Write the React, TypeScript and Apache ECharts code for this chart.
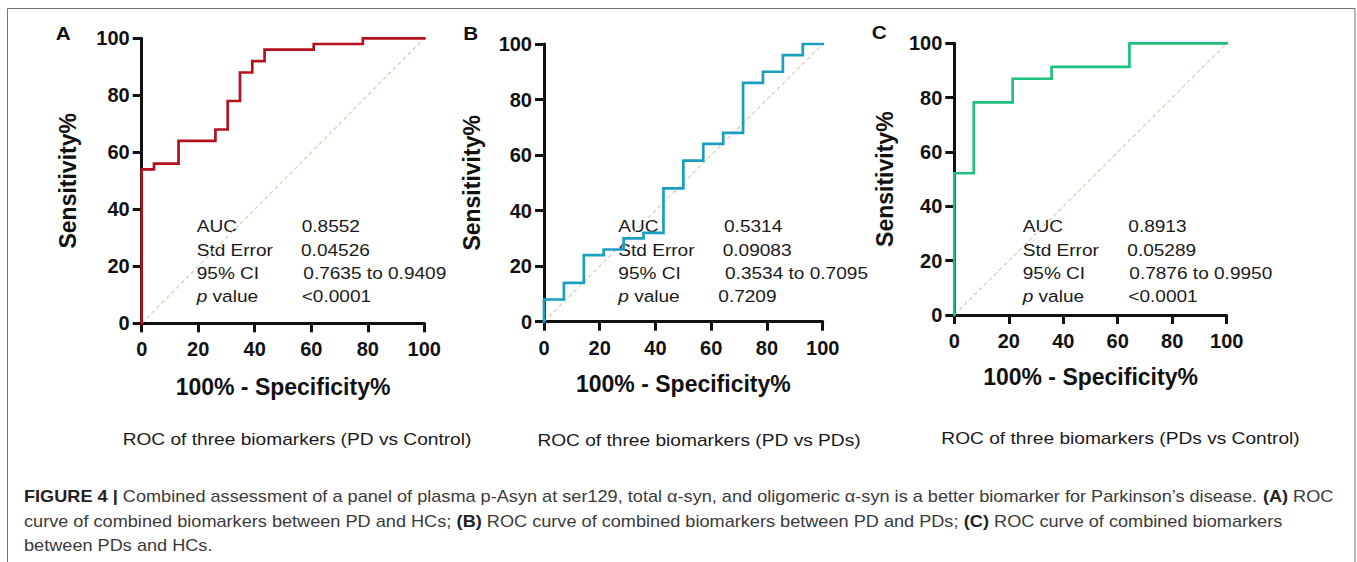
import React, { useEffect, useRef } from "react";
import * as echarts from "echarts";

// ---------- data ----------
const axisTicks = [0, 20, 40, 60, 80, 100];
const fprA = [0, 4.35, 13.04, 26.09, 30.43, 34.78, 39.13, 43.48, 60.87, 78.26, 100];
const tprA = [54, 56, 64, 68, 78, 88, 92, 96, 98, 100, 100];
const fprB = [0, 7.14, 14.29, 21.43, 28.57, 35.71, 42.86, 50, 57.14, 64.29, 71.43, 78.57, 85.71, 92.86, 100];
const tprB = [8, 14, 24, 26, 30, 32, 48, 58, 64, 68, 86, 90, 96, 100, 100];
const fprC = [0, 7.14, 21.43, 35.71, 64.29, 100];
const tprC = [52.17, 78.26, 86.96, 91.3, 100, 100];

const statLabels = ["AUC", "Std Error", "95% CI", "{i|p} value"];
const statsA = ["0.8552", "0.04526", "0.7635 to 0.9409", "<0.0001"];
const statsB = ["0.5314", "0.09083", "0.3534 to 0.7095", "0.7209"];
const statsC = ["0.8913", "0.05289", "0.7876 to 0.9950", "<0.0001"];

const panelLetters = ["A", "B", "C"];
const subtitles = [
  "ROC of three biomarkers (PD vs Control)",
  "ROC of three biomarkers (PD vs PDs)",
  "ROC of three biomarkers (PDs vs Control)",
];
const xTitle = "100% - Specificity%";
const yTitle = "Sensitivity%";

const captionLines: [string, string][][] = [
  [
    ["b", "FIGURE 4 | "],
    ["n", "Combined assessment of a panel of plasma p-Asyn at ser129, total \u03b1-syn, and oligomeric \u03b1-syn is a better biomarker for Parkinson\u2019s disease. "],
    ["b", "(A)"],
    ["n", " ROC"],
  ],
  [
    ["n", "curve of combined biomarkers between PD and HCs; "],
    ["b", "(B)"],
    ["n", " ROC curve of combined biomarkers between PD and PDs; "],
    ["b", "(C)"],
    ["n", " ROC curve of combined biomarkers"],
  ],
  [["n", "between PDs and HCs."]],
];

// ---------- layout ----------
const FONT = '"Liberation Sans", Arial, Helvetica, sans-serif';
const CAP_FONT = '"Liberation Sans Narrow", "Liberation Sans", Arial, sans-serif';
const colors = ["#b3121c", "#1a9fc0", "#1fc07c"];
const grids = [
  { left: 141.7, top: 38.3, width: 282.6, height: 285 },
  { left: 544, top: 44, width: 278.7, height: 277.7 },
  { left: 954.3, top: 43.3, width: 272.4, height: 271.7 },
];
const xNameGaps = [52, 50.5, 50.5];
const yNameGaps = [62, 61, 58];
const letterPos = [
  [63.3, 33.3],
  [470.7, 33.3],
  [879.3, 33],
];
const statLabelX = [196.7, 618.3, 1022.7];
const statValueX = [
  [301.7, 301, 303.3, 301.7],
  [724, 722.7, 725, 718.3],
  [1128.3, 1127.3, 1129.3, 1128.3],
];
const statRowY = [226.7, 250, 273.3, 296.7];
const subtitlePos = [
  [297, 439.5],
  [699, 440],
  [1120.5, 438.5],
];
const captionX = 24;
const captionY = [497, 521.5, 546];

function steps(fpr: number[], tpr: number[]) {
  const pts: number[][] = [[0, 0]];
  for (let i = 0; i < fpr.length; i++) {
    if (i > 0) pts.push([fpr[i], tpr[i - 1]]);
    pts.push([fpr[i], tpr[i]]);
  }
  return pts;
}

let measureCtx: CanvasRenderingContext2D | null = null;
function measure(text: string, font: string) {
  if (!measureCtx) measureCtx = document.createElement("canvas").getContext("2d");
  if (!measureCtx) return text.length * 8;
  measureCtx.font = font;
  return measureCtx.measureText(text).width;
}

export default function App() {
  const ref = useRef<HTMLDivElement>(null);

  useEffect(() => {
    if (!ref.current) return;
    const chart = echarts.init(ref.current, null, { renderer: "svg" });

    const rocData = [steps(fprA, tprA), steps(fprB, tprB), steps(fprC, tprC)];
    const stats = [statsA, statsB, statsC];

    const xAxis = grids.map((_, i) => ({
      type: "value",
      gridIndex: i,
      min: 0,
      max: 100,
      interval: 20,
      splitLine: { show: false },
      axisLine: { show: true, onZero: false, lineStyle: { color: "#111", width: 3 } },
      axisTick: { show: true, length: 9, lineStyle: { color: "#111", width: 3 } },
      axisLabel: {
        fontSize: 20,
        fontWeight: "bold",
        fontFamily: FONT,
        color: "#111",
        margin: 16,
        customValues: axisTicks,
      },
      name: xTitle,
      nameLocation: "middle",
      nameGap: xNameGaps[i],
      nameTextStyle: { fontSize: 23, fontWeight: "bold", fontFamily: FONT, color: "#111" },
    }));
    const yAxis = grids.map((_, i) => ({
      type: "value",
      gridIndex: i,
      min: 0,
      max: 100,
      interval: 20,
      splitLine: { show: false },
      axisLine: { show: true, onZero: false, lineStyle: { color: "#111", width: 3 } },
      axisTick: { show: true, length: 9, lineStyle: { color: "#111", width: 3 } },
      axisLabel: {
        fontSize: 20,
        fontWeight: "bold",
        fontFamily: FONT,
        color: "#111",
        margin: 12,
      },
      name: yTitle,
      nameLocation: "middle",
      nameGap: yNameGaps[i],
      nameTextStyle: { fontSize: 23, fontWeight: "bold", fontFamily: FONT, color: "#111" },
    }));

    const series: any[] = [];
    grids.forEach((_, i) => {
      series.push({
        type: "line",
        xAxisIndex: i,
        yAxisIndex: i,
        data: [
          [0, 0],
          [100, 100],
        ],
        symbol: "none",
        silent: true,
        lineStyle: { color: "#dcd2b2", width: 1.3, type: [4, 3] },
        z: 1,
      });
      series.push({
        type: "line",
        xAxisIndex: i,
        yAxisIndex: i,
        data: rocData[i],
        symbol: "none",
        clip: false,
        lineStyle: { color: colors[i], width: 2.7, cap: "square", join: "miter" },
        z: 3,
      });
    });

    // stats text scale (fit the CI string width of panel A)
    const statFontSize = 17;
    const statFont = `${statFontSize}px ${FONT}`;
    const statScale = 143 / measure(statsA[2], statFont);

    const graphics: any[] = [];
    graphics.push({
      type: "rect",
      shape: { x: 7.5, y: 8.5, width: 1347.5, height: 570 },
      style: { fill: "none", stroke: "#707070", lineWidth: 1 },
      silent: true,
    });
    panelLetters.forEach((l, i) => {
      graphics.push({
        type: "text",
        x: letterPos[i][0],
        y: letterPos[i][1],
        scaleX: 1.15,
        style: {
          text: l,
          fontSize: 18,
          fontWeight: "bold",
          fontFamily: FONT,
          fill: "#111",
          align: "center",
          verticalAlign: "middle",
        },
      });
    });
    stats.forEach((vals, i) => {
      statLabels.forEach((lab, r) => {
        graphics.push({
          type: "text",
          x: statLabelX[i],
          y: statRowY[r],
          scaleX: statScale,
          style: {
            text: lab,
            fontSize: statFontSize,
            fontFamily: FONT,
            fill: "#1a1a1a",
            align: "left",
            verticalAlign: "middle",
            rich: { i: { fontStyle: "italic", fontSize: statFontSize, fontFamily: FONT, fill: "#1a1a1a" } },
          },
        });
        graphics.push({
          type: "text",
          x: statValueX[i][r],
          y: statRowY[r],
          scaleX: statScale,
          style: {
            text: vals[r],
            fontSize: statFontSize,
            fontFamily: FONT,
            fill: "#1a1a1a",
            align: "left",
            verticalAlign: "middle",
          },
        });
      });
    });

    // subtitles
    const subFontSize = 17;
    const subFont = `${subFontSize}px ${FONT}`;
    const subScale = 349 / measure(subtitles[0], subFont);
    subtitles.forEach((s, i) => {
      graphics.push({
        type: "text",
        x: subtitlePos[i][0],
        y: subtitlePos[i][1],
        scaleX: subScale,
        style: {
          text: s,
          fontSize: subFontSize,
          fontFamily: FONT,
          fill: "#1a1a1a",
          align: "center",
          verticalAlign: "middle",
        },
      });
    });

    // caption
    const capSize = 16;
    const boldFont = `bold ${capSize}px ${CAP_FONT}`;
    const normFont = `${capSize}px ${CAP_FONT}`;
    const line1W = captionLines[0].reduce(
      (s, [k, t]) => s + measure(t, k === "b" ? boldFont : normFont),
      0
    );
    const capScale = 1309 / line1W;
    captionLines.forEach((segs, li) => {
      const text = segs.map(([k, t]) => (k === "b" ? `{b|${t}}` : `{n|${t}}`)).join("");
      graphics.push({
        type: "text",
        x: captionX,
        y: captionY[li],
        scaleX: capScale,
        style: {
          text,
          fontSize: capSize,
          fontFamily: CAP_FONT,
          fill: "#3a3a3a",
          align: "left",
          verticalAlign: "middle",
          rich: {
            b: { fontWeight: "bold", fontSize: capSize, fontFamily: CAP_FONT, fill: "#222" },
            n: { fontSize: capSize, fontFamily: CAP_FONT, fill: "#3a3a3a" },
          },
        },
      });
    });

    chart.setOption({
      animation: false,
      backgroundColor: "#ffffff",
      grid: grids.map((g) => ({ ...g, containLabel: false, outerBoundsMode: "none" })),
      xAxis,
      yAxis,
      series,
      graphic: graphics,
    });

    return () => chart.dispose();
  }, []);

  return (
    <div
      ref={ref}
      style={{ position: "absolute", left: 0, top: 0, width: 1357, height: 562, background: "#fff" }}
    />
  );
}
